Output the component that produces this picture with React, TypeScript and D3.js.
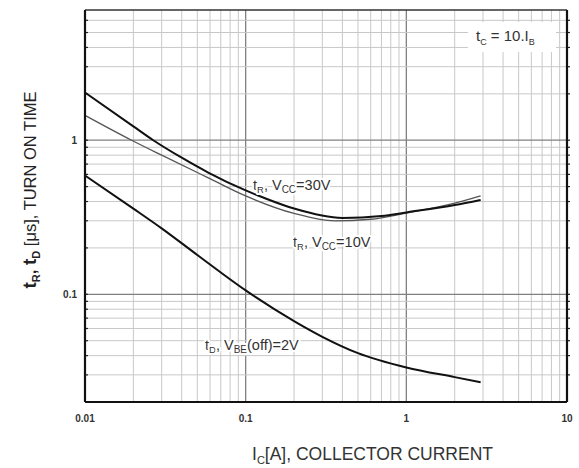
import React from 'react';
import * as d3 from 'd3';

// collector current [A] vs turn-on times [us]
const trVcc30: [number, number][] = [
  [0.01, 2.04], [0.02, 1.23], [0.0266, 1.0], [0.04, 0.77], [0.0585, 0.617], [0.1, 0.472],
  [0.132, 0.42], [0.2, 0.36], [0.4, 0.313], [0.7, 0.322], [1, 0.34], [2, 0.38], [2.9, 0.41],
];
const trVcc10: [number, number][] = [
  [0.01, 1.45], [0.0195, 1.0], [0.03, 0.8], [0.0585, 0.57], [0.1, 0.435], [0.2, 0.335],
  [0.36, 0.3], [0.6, 0.307], [1, 0.337], [2, 0.39], [2.9, 0.435],
];
const tdVbe2: [number, number][] = [
  [0.01, 0.59], [0.02, 0.36], [0.03, 0.268], [0.05, 0.18], [0.1, 0.106], [0.2, 0.067],
  [0.3, 0.053], [0.5, 0.0415], [1, 0.0335], [2, 0.029], [2.9, 0.0269],
];

const xTickLabels = [0.01, 0.1, 1, 10];
const yTickLabels = [0.1, 1];

const font = '"Liberation Sans", Arial, sans-serif';

export default function App() {
  const left = 85, right = 567, top = 10, bottom = 402;

  const x = d3.scaleLog().domain([0.01, 10]).range([left, right]);
  const y = d3.scaleLog().domain([0.02, 7]).range([bottom, top]);

  const xGrid = x.ticks();
  const yGrid = y.ticks().filter(v => v > 0.02 && v < 7);

  const line = d3.line<[number, number]>()
    .x(d => x(d[0]))
    .y(d => y(d[1]))
    .curve(d3.curveMonotoneX);

  const isMajor = (v: number) => Math.abs(Math.log10(v) - Math.round(Math.log10(v))) < 1e-6;

  const halo = { paintOrder: 'stroke', stroke: '#fff', strokeWidth: 4, strokeLinejoin: 'round' as const };

  return (
    <svg width={579} height={468} style={{ position: 'absolute', left: 0, top: 0, background: '#fff' }}>
      {/* grid */}
      {xGrid.map(v => (
        <line key={'gx' + v} x1={x(v)} x2={x(v)} y1={top} y2={bottom}
          stroke={isMajor(v) ? '#808080' : '#c8c8c8'} strokeWidth={isMajor(v) ? 1.3 : 1} />
      ))}
      {yGrid.map(v => (
        <line key={'gy' + v} x1={left} x2={right} y1={y(v)} y2={y(v)}
          stroke={isMajor(v) ? '#808080' : '#c8c8c8'} strokeWidth={isMajor(v) ? 1.3 : 1} />
      ))}

      {/* small ticks on the vertical edges */}
      {yGrid.map(v => (
        <g key={'ty' + v}>
          <line x1={left} x2={left + 3} y1={y(v)} y2={y(v)} stroke="#222" strokeWidth={1.2} />
          <line x1={right} x2={right + 3} y1={y(v)} y2={y(v)} stroke="#222" strokeWidth={1.2} />
        </g>
      ))}

      {/* curves */}
      <path d={line(trVcc10) || ''} fill="none" stroke="#555" strokeWidth={1.3} />
      <path d={line(trVcc30) || ''} fill="none" stroke="#111" strokeWidth={2} />
      <path d={line(tdVbe2) || ''} fill="none" stroke="#111" strokeWidth={2} />

      {/* frame */}
      <line x1={left} x2={right} y1={top} y2={top} stroke="#333" strokeWidth={1.5} />
      <line x1={left} x2={left} y1={top} y2={bottom} stroke="#111" strokeWidth={2.2} />
      <line x1={right} x2={right} y1={top} y2={bottom} stroke="#111" strokeWidth={2.2} />
      <line x1={left} x2={right} y1={bottom} y2={bottom} stroke="#111" strokeWidth={2.2} />

      {/* tick labels */}
      {xTickLabels.map(v => (
        <text key={'lx' + v} x={x(v)} y={422} textAnchor="middle" fontFamily={font}
          fontSize={10} fontWeight="bold" fill="#333">{v}</text>
      ))}
      {yTickLabels.map(v => (
        <text key={'ly' + v} x={77} y={y(v) + 4} textAnchor="end" fontFamily={font}
          fontSize={10} fontWeight="bold" fill="#333">{v}</text>
      ))}

      {/* annotations */}
      <rect x={468} y={22} width={88} height={30} fill="#fff" />
      <text x={476} y={41} fontFamily={font} fontSize={15} fill="#333">
        t<tspan fontSize={9} dy={4}>C</tspan><tspan dy={-4}> = 10.I</tspan><tspan fontSize={9} dy={4}>B</tspan>
      </text>

      <text x={253} y={190} fontFamily={font} fontSize={14.5} fill="#333" style={halo}>
        t<tspan fontSize={9.5} dy={3}>R</tspan><tspan dy={-3}>, V</tspan><tspan fontSize={10} dy={3}>CC</tspan><tspan dy={-3}>=30V</tspan>
      </text>
      <text x={293} y={247} fontFamily={font} fontSize={14.5} fill="#333" style={halo}>
        t<tspan fontSize={9.5} dy={3}>R</tspan><tspan dy={-3}>, V</tspan><tspan fontSize={10} dy={3}>CC</tspan><tspan dy={-3}>=10V</tspan>
      </text>
      <text x={205} y={350} fontFamily={font} fontSize={14.5} fill="#333" style={halo}>
        t<tspan fontSize={9.5} dy={3}>D</tspan><tspan dy={-3}>, V</tspan><tspan fontSize={10} dy={3}>BE</tspan><tspan dy={-3}>(off)=2V</tspan>
      </text>

      {/* axis titles */}
      <text x={252} y={460} fontFamily={font} fontSize={17.5} fill="#333">
        I<tspan fontSize={11} dy={4}>C</tspan><tspan dy={-4}>[A], COLLECTOR CURRENT</tspan>
      </text>
      <text transform="translate(36,190) rotate(-90)" textAnchor="middle" fontFamily={font} fontSize={16.5} fill="#222">
        <tspan fontWeight="bold" fontSize={19}>t</tspan><tspan fontWeight="bold" fontSize={11} dy={4}>R</tspan>
        <tspan fontWeight="bold" dy={-4}>, </tspan><tspan fontWeight="bold" fontSize={19}>t</tspan>
        <tspan fontWeight="bold" fontSize={11} dy={4}>D</tspan><tspan dy={-4}> [μs], TURN ON TIME</tspan>
      </text>
    </svg>
  );
}
